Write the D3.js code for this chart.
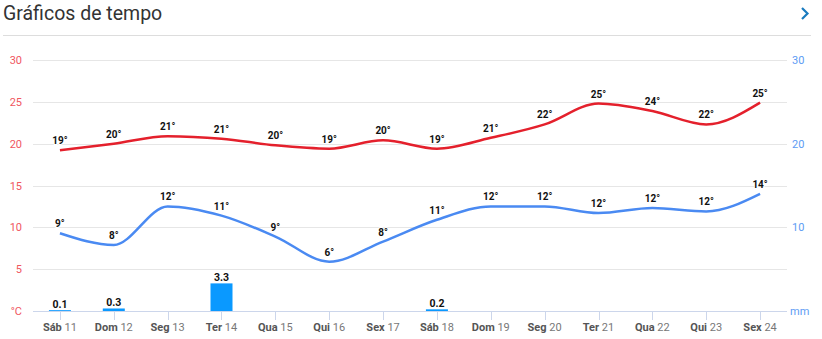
<!DOCTYPE html>
<html><head><meta charset="utf-8">
<script src="https://cdn.jsdelivr.net/npm/d3@7"></script>
<style>
body{margin:0;background:#fff;font-family:Roboto,"Open Sans",sans-serif;}
svg{display:block}
</style></head>
<body>
<svg id="c" width="822" height="339"></svg>
<script>
const days = ["Sáb","Dom","Seg","Ter","Qua","Qui","Sex","Sáb","Dom","Seg","Ter","Qua","Qui","Sex"];
const dates = ["11","12","13","14","15","16","17","18","19","20","21","22","23","24"];
const maxTemp = [19.2,20.0,20.9,20.6,19.8,19.4,20.4,19.4,20.7,22.3,24.8,23.9,22.3,24.9];
const maxLabels = ["19°","20°","21°","21°","20°","19°","20°","19°","21°","22°","25°","24°","22°","25°"];
const minTemp = [9.3,7.9,12.5,11.4,8.9,5.9,8.3,10.9,12.5,12.5,11.7,12.3,11.9,14.0];
const minLabels = ["9°","8°","12°","11°","9°","6°","8°","11°","12°","12°","12°","12°","12°","14°"];
const precip = [0.1,0.3,0,3.3,0,0,0,0.2,0,0,0,0,0,0];
const precipLabels = ["0.1","0.3","","3.3","","","","0.2","","","","","",""];
const tempTicks = [5,10,15,20,25,30];
const mmTicks = [10,20,30];

(function(){
const svg = d3.select("#c");
const pLeft = 33, pRight = 787, pTop = 60, pBottom = 311;

// header
svg.append("text").attr("x",3).attr("y",20).attr("font-size",19.5).attr("fill","#333")
  .attr("font-family","Roboto,sans-serif").text("Gráficos de tempo");
svg.append("line").attr("x1",3).attr("x2",811).attr("y1",35.5).attr("y2",35.5).attr("stroke","#dddddd");
svg.append("path").attr("d","M802,8 L807.5,13.5 L802,19").attr("fill","none").attr("stroke","#1a7bbf").attr("stroke-width",2.2);

const x = d3.scaleBand().domain(d3.range(days.length)).range([pLeft,pRight]);
const yT = d3.scaleLinear().domain([0,30]).range([pBottom,pTop]);
const yP = d3.scaleLinear().domain([0,30]).range([pBottom,pTop]);
const cx = i => x(i) + x.bandwidth()/2;

// grid
svg.append("g").selectAll("line").data(tempTicks).join("line")
  .attr("x1",pLeft).attr("x2",pRight).attr("y1",d=>Math.round(yT(d))+0.5).attr("y2",d=>Math.round(yT(d))+0.5)
  .attr("stroke","#e6e6e6");

// left axis labels
const la = svg.append("g").attr("font-size",11).attr("fill","#f0575f").attr("text-anchor","end");
la.selectAll("text").data(tempTicks).join("text").attr("x",22).attr("y",d=>yT(d)+4).text(d=>d);
la.append("text").attr("x",22).attr("y",pBottom+4).text("°C");
// right axis labels
const ra = svg.append("g").attr("font-size",11).attr("fill","#5d9cf4").attr("text-anchor","start");
ra.selectAll("text").data(mmTicks).join("text").attr("x",792).attr("y",d=>yP(d)+4).text(d=>d);
ra.append("text").attr("x",790).attr("y",pBottom+4).text("mm");

// bars
const bw = 22;
svg.append("g").selectAll("rect").data(precip).join("rect")
  .attr("x",(d,i)=>cx(i)-bw/2).attr("width",bw)
  .attr("y",d=>yP(d)).attr("height",d=>pBottom-yP(d)).attr("fill","#0a99ff");

// x axis
const xa = svg.append("g");
xa.append("line").attr("x1",pLeft).attr("x2",pRight).attr("y1",pBottom+0.5).attr("y2",pBottom+0.5).attr("stroke","#ccd6eb");
xa.selectAll("line.t").data(days).join("line").attr("class","t")
  .attr("x1",(d,i)=>Math.round(cx(i))+0.5).attr("x2",(d,i)=>Math.round(cx(i))+0.5)
  .attr("y1",pBottom).attr("y2",pBottom+9).attr("stroke","#ccd6eb");
const tl = xa.selectAll("text").data(days).join("text")
  .attr("x",(d,i)=>cx(i)).attr("y",331).attr("text-anchor","middle").attr("font-size",11);
tl.append("tspan").attr("font-weight","bold").attr("fill","#555").text(d=>d);
tl.append("tspan").attr("fill","#777").text((d,i)=>" "+dates[i]);

// lines
const line = ys => d3.line().x((d,i)=>cx(i)).y(d=>ys(d)).curve(d3.curveMonotoneX);
svg.append("path").datum(maxTemp).attr("d",line(yT)).attr("fill","none").attr("stroke","#e4202c").attr("stroke-width",2.5);
svg.append("path").datum(minTemp).attr("d",line(yT)).attr("fill","none").attr("stroke","#4a8af2").attr("stroke-width",2.5);

function labels(vals, texts, yS){
  svg.append("g").selectAll("text").data(vals).join("text")
    .attr("x",(d,i)=>cx(i)).attr("y",d=>yS(d)-6)
    .attr("text-anchor","middle").attr("font-size",10).attr("font-weight","bold")
    .attr("fill","#111").attr("stroke","#fff").attr("stroke-width",2).attr("paint-order","stroke")
    .text((d,i)=>texts[i]);
}
labels(maxTemp,maxLabels,yT);
labels(minTemp,minLabels,yT);
// bar labels
svg.append("g").selectAll("text").data(precip).join("text")
  .attr("x",(d,i)=>cx(i)).attr("y",d=>yP(d)-2)
  .attr("text-anchor","middle").attr("font-size",10.5).attr("font-weight","bold")
  .attr("fill","#111").attr("stroke","#fff").attr("stroke-width",2).attr("paint-order","stroke")
  .text((d,i)=>precipLabels[i]);
})();
</script>
</body></html>
